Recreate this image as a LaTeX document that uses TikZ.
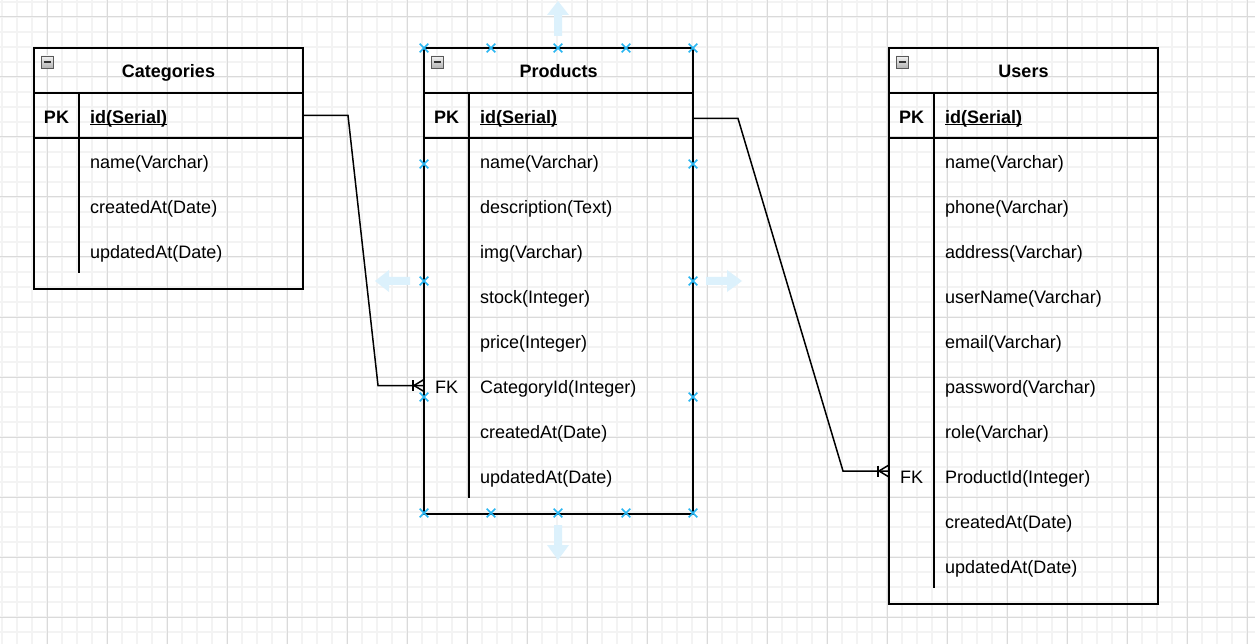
\documentclass[tikz,border=0pt]{standalone}
\usepackage{fontspec}
\setmainfont{Liberation Sans}
\usetikzlibrary{shapes.misc}
\definecolor{majorgrid}{HTML}{DADADA}
\definecolor{minorgrid}{HTML}{F3F3F3}
\definecolor{handleblue}{HTML}{29B6F2}
\definecolor{hoverblue}{HTML}{DCF1FC}
\newcommand{\erfont}{\fontsize{18pt}{22pt}\selectfont}
\newcommand{\crowfoot}[1]{%
  \draw[conn] ([yshift=6pt]#1) -- ([xshift=-10pt]#1) -- ([yshift=-6pt]#1);
  \draw[conn] ([xshift=-11pt,yshift=5.5pt]#1) -- ([xshift=-11pt,yshift=-5.5pt]#1);}
\tikzset{
  frame/.style={draw, line width=1.5pt},
  tabletitle/.style={frame, anchor=north west, minimum width=269pt, minimum height=45pt, inner sep=0pt, outer sep=0pt,
    text height=15pt, text depth=0pt, font=\erfont\bfseries},
  keycell/.style={anchor=north west, minimum width=45pt, minimum height=45pt, inner sep=0pt, outer sep=0pt,
    text height=15.5pt, text depth=0pt, font=\erfont},
  pkcell/.style={frame, anchor=north west, minimum width=224pt, minimum height=45pt, inner sep=0pt, outer sep=0pt},
  bodybox/.style={frame, anchor=north west, minimum width=269pt, inner sep=0pt, outer sep=0pt},
  field/.style={anchor=west, inner sep=0pt, text height=15.5pt, text depth=0pt, font=\erfont},
  collapse/.style={draw=gray!70!black, top color=gray!10, bottom color=gray!60, minimum size=12pt, inner sep=0pt,
    path picture={\draw[line width=1.8pt, black!80] ([xshift=2.5pt]path picture bounding box.west)
      -- ([xshift=-2.5pt]path picture bounding box.east);}},
  handle/.style={cross out, draw=handleblue, line width=1.6pt, minimum size=7pt, inner sep=0pt},
  conn/.style={line width=1.5pt},
  minorline/.style={minorgrid, line width=1.5pt},
  majorline/.style={majorgrid, line width=1pt},
  hover/.style={fill=hoverblue}
}
\begin{document}
\begin{tikzpicture}[x=1pt, y=-1pt]
                \useasboundingbox (0,0) rectangle (1255,644);
                \fill[white] (0,0) rectangle (1255,644);
                \foreach \gx in {2,17,...,1255} \draw[minorline] (\gx,0) -- (\gx,644);
                \foreach \gy in {2,17,...,644} \draw[minorline] (0,\gy) -- (1255,\gy);
                \foreach \gx in {47,107,...,1255} \draw[majorline] (\gx,0) -- (\gx,644);
                \foreach \gy in {17,77,...,644} \draw[majorline] (0,\gy) -- (1255,\gy);

                \node[tabletitle] (cattitle) at (34,48) {Categories};
                \node[collapse] (catbtn) at (47,62) {};
                \node[keycell, frame, font=\erfont\bfseries] (catkey) at (34,93) {PK};
                \node[pkcell] (catpk) at (79,93) {};
                \node[bodybox, minimum height=151pt] (catbody) at (34,138) {};
                \draw[frame] ([xshift=45pt]catbody.north west) -- ++(0,135);
                \node[field, font=\erfont\bfseries] (catid) at (90,115.5) {\underline{\smash{id(Serial)}}};
                \node[field] (catname) at (90,160.5) {name(Varchar)};
                \node[field] (catcreated) at (90,205.5) {createdAt(Date)};
                \node[field] (catupdated) at (90,250.5) {updatedAt(Date)};

                \node[tabletitle] (prodtitle) at (424,48) {Products};
                \node[collapse] (prodbtn) at (437,62) {};
                \node[keycell, frame, font=\erfont\bfseries] (prodkey) at (424,93) {PK};
                \node[pkcell] (prodpk) at (469,93) {};
                \node[bodybox, minimum height=376pt] (prodbody) at (424,138) {};
                \draw[frame] ([xshift=45pt]prodbody.north west) -- ++(0,360);
                \node[field, font=\erfont\bfseries] (prodid) at (480,115.5) {\underline{\smash{id(Serial)}}};
                \node[field] (prodname) at (480,160.5) {name(Varchar)};
                \node[field] (proddesc) at (480,205.5) {description(Text)};
                \node[field] (prodimg) at (480,250.5) {img(Varchar)};
                \node[field] (prodstock) at (480,295.5) {stock(Integer)};
                \node[field] (prodprice) at (480,340.5) {price(Integer)};
                \node[keycell] (prodfk) at (424,363) {FK};
                \node[field] (prodcat) at (480,385.5) {CategoryId(Integer)};
                \node[field] (prodcreated) at (480,430.5) {createdAt(Date)};
                \node[field] (produpdated) at (480,475.5) {updatedAt(Date)};

                \node[tabletitle] (usertitle) at (889,48) {Users};
                \node[collapse] (userbtn) at (902,62) {};
                \node[keycell, frame, font=\erfont\bfseries] (userkey) at (889,93) {PK};
                \node[pkcell] (userpk) at (934,93) {};
                \node[bodybox, minimum height=466pt] (userbody) at (889,138) {};
                \draw[frame] ([xshift=45pt]userbody.north west) -- ++(0,450);
                \node[field, font=\erfont\bfseries] (userid) at (945,115.5) {\underline{\smash{id(Serial)}}};
                \node[field] (username) at (945,160.5) {name(Varchar)};
                \node[field] (userphone) at (945,205.5) {phone(Varchar)};
                \node[field] (useraddress) at (945,250.5) {address(Varchar)};
                \node[field] (userlogin) at (945,295.5) {userName(Varchar)};
                \node[field] (useremail) at (945,340.5) {email(Varchar)};
                \node[field] (userpass) at (945,385.5) {password(Varchar)};
                \node[field] (userrole) at (945,430.5) {role(Varchar)};
                \node[keycell] (userfk) at (889,453) {FK};
                \node[field] (userprod) at (945,475.5) {ProductId(Integer)};
                \node[field] (usercreated) at (945,520.5) {createdAt(Date)};
                \node[field] (userupdated) at (945,565.5) {updatedAt(Date)};

                \draw[conn] (catpk.east) -- ++(45,0) -- ([xshift=-46pt]prodfk.west) -- (prodfk.west);
                \crowfoot{prodfk.west}
                \coordinate (userend) at ([yshift=4.5pt]userfk.west);
                \draw[conn] ([yshift=-3pt]prodpk.east) -- ++(45,0) -- ([xshift=-46pt]userend) -- (userend);
                \crowfoot{userend}

                \foreach \hx [count=\hi] in {424,491,558,626,693} {
                    \node[handle] (htop\hi) at (\hx,48) {};
                    \node[handle] (hbot\hi) at (\hx,513) {};
                }
                \foreach \hy [count=\hi] in {164,281,397} {
                    \node[handle] (hleft\hi) at (424,\hy) {};
                    \node[handle] (hright\hi) at (693,\hy) {};
                }

                \fill[hover] (554,36) -- (554,15) -- (547,15) -- (558,1) -- (569,15) -- (562,15) -- (562,36) -- cycle;
                \fill[hover] (554,525) -- (554,545) -- (547,545) -- (558,560) -- (569,545) -- (562,545) -- (562,525) -- cycle;
                \fill[hover] (410,277) -- (389,277) -- (389,270) -- (375,281) -- (389,292) -- (389,285) -- (410,285) -- cycle;
                \fill[hover] (706,277) -- (727,277) -- (727,270) -- (742,281) -- (727,292) -- (727,285) -- (706,285) -- cycle;
            \end{tikzpicture}
\end{document}
